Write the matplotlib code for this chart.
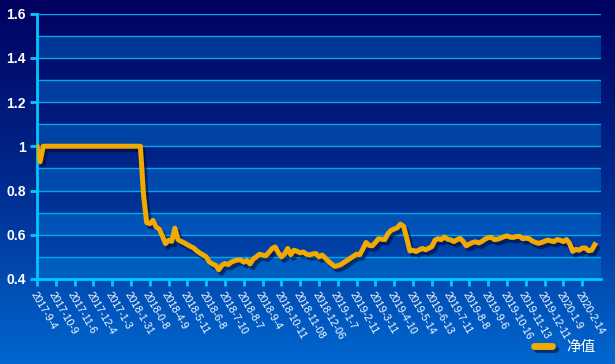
import numpy as np
import matplotlib
matplotlib.use("Agg")
import matplotlib.pyplot as plt
import matplotlib.patheffects as pe
from matplotlib.colors import LinearSegmentedColormap

# net value series (one point per ~3 trading days)
NAV = [
    1.0, 0.93, 1.0, 1.0, 1.0, 1.0, 1.0, 1.0, 1.0, 1.0,
    1.0, 1.0, 1.0, 1.0, 1.0, 1.0, 1.0, 1.0, 1.0, 1.0,
    1.0, 1.0, 1.0, 1.0, 1.0, 1.0, 1.0, 1.0, 1.0, 1.0,
    1.0, 1.0, 1.0, 1.0, 0.78, 0.655, 0.65, 0.665, 0.636, 0.625,
    0.595, 0.56, 0.575, 0.57, 0.63, 0.578, 0.57, 0.563, 0.555, 0.547,
    0.54, 0.527, 0.517, 0.509, 0.50, 0.478, 0.468, 0.462, 0.442, 0.462,
    0.47, 0.465, 0.476, 0.482, 0.486, 0.486, 0.476, 0.484, 0.468, 0.49,
    0.50, 0.512, 0.508, 0.505, 0.52, 0.537, 0.545, 0.52, 0.50, 0.512,
    0.538, 0.51, 0.53, 0.525, 0.518, 0.522, 0.512, 0.509, 0.513, 0.515,
    0.50, 0.508, 0.495, 0.48, 0.468, 0.457, 0.46, 0.465, 0.475, 0.484,
    0.494, 0.503, 0.512, 0.51, 0.535, 0.565, 0.552, 0.55, 0.565, 0.582,
    0.58, 0.578, 0.605, 0.62, 0.626, 0.632, 0.648, 0.638, 0.585, 0.527,
    0.53, 0.524, 0.532, 0.538, 0.532, 0.539, 0.546, 0.575, 0.582, 0.578,
    0.59, 0.58, 0.577, 0.569, 0.577, 0.584, 0.57, 0.55, 0.558, 0.565,
    0.568, 0.563, 0.57, 0.58, 0.587, 0.588, 0.578, 0.58, 0.585, 0.591,
    0.595, 0.589, 0.588, 0.592, 0.593, 0.582, 0.584, 0.583, 0.572, 0.566,
    0.561, 0.565, 0.57, 0.576, 0.572, 0.569, 0.578, 0.575, 0.569, 0.578,
    0.56, 0.525, 0.534, 0.53, 0.54, 0.54, 0.528, 0.53, 0.555,
]

DATE_LABELS = [
    "2017-9-4", "2017-10-9", "2017-11-6", "2017-12-4", "2017-1-3",
    "2018-1-31", "2018-0-8", "2018-4-9", "2018-5-11", "2018-6-8",
    "2018-7-10", "2018-8-7", "2018-9-4", "2018-10-11", "2018-11-08",
    "2018-12-06", "2019-1-7", "2019-2-11", "2019-3-11", "2019-4-10",
    "2019-5-14", "2019-6-13", "2019-7-11", "2019-8-8", "2019-9-6",
    "2019-10-16", "2019-11-13", "2019-12-11", "2020-1-9", "2020-2-14",
]
POINTS_PER_LABEL = 6

AXIS = "#00c8ff"
GRID = "#00a8e8"
LINE = "#f2a900"

fig = plt.figure(figsize=(6.15, 3.64), dpi=100)

# background gradient, dark navy at top to blue at bottom
bg = fig.add_axes([0, 0, 1, 1], zorder=-10)
cmap = LinearSegmentedColormap.from_list("bg", ["#000060", "#002a8e", "#0068d0"])
bg.imshow(np.linspace(0, 1, 256).reshape(-1, 1), aspect="auto", cmap=cmap,
          extent=[0, 1, 0, 1])
bg.axis("off")

ax = fig.add_axes([37 / 615, 1 - 279 / 364, 564 / 615, 265.5 / 364])
ax.patch.set_alpha(0)

# alternating lighter bands
for lo in np.arange(0.4, 1.6, 0.2):
    ax.axhspan(lo, lo + 0.1, color="#0080e0", alpha=0.38, lw=0, zorder=0)
for v in np.arange(0.5, 1.61, 0.1):
    ax.axhline(v, color=GRID, lw=1.0, zorder=1)

x = np.arange(len(NAV))
ax.plot(x, NAV, color=LINE, lw=3.6, solid_joinstyle="round", zorder=3,
        label="净值",
        path_effects=[pe.SimpleLineShadow(offset=(2, -2.5), shadow_color="#000830", alpha=0.55),
                      pe.Normal()])

ax.set_xlim(0, len(DATE_LABELS) * POINTS_PER_LABEL)
ax.set_ylim(0.4, 1.6)
ax.set_yticks([0.4, 0.6, 0.8, 1.0, 1.2, 1.4, 1.6])
ax.set_yticklabels(["0.4", "0.6", "0.8", "1", "1.2", "1.4", "1.6"],
                   fontsize=10, fontweight="bold", family="Liberation Sans")
ax.set_xticks(np.arange(len(DATE_LABELS)) * POINTS_PER_LABEL)
ax.set_xticklabels(DATE_LABELS, rotation=-60, ha="left", va="top",
                   rotation_mode="anchor", fontsize=7.5,
                   family="Liberation Sans")

for s in ["top", "right"]:
    ax.spines[s].set_visible(False)
for s in ["left", "bottom"]:
    ax.spines[s].set_color(AXIS)
    ax.spines[s].set_linewidth(2)
ax.tick_params(axis="both", color=AXIS, labelcolor="white", width=2, length=5)
ax.tick_params(axis="x", pad=3)
ax.tick_params(axis="y", pad=3)

leg = ax.legend(loc="lower right", bbox_to_anchor=(0.985, 0.0),
                bbox_transform=fig.transFigure, frameon=False,
                handlelength=1.2, handletextpad=1.0, borderaxespad=0.3,
                prop={"family": ["Noto Sans CJK SC", "DejaVu Sans"], "size": 10.5})
for t in leg.get_texts():
    t.set_color("white")
for h in leg.legend_handles:
    h.set_linewidth(5)
    h.set_solid_capstyle("round")

fig.savefig("out.png", dpi=100)
